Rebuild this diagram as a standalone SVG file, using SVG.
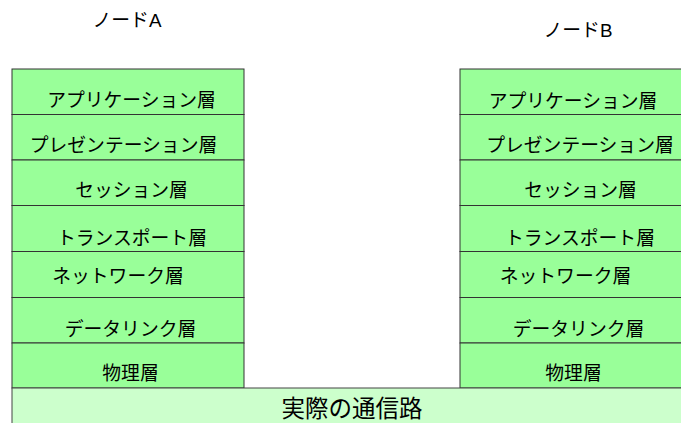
<svg xmlns="http://www.w3.org/2000/svg" width="681" height="423" viewBox="0 0 681 423">
<style>
.layer{fill:#99ff99;stroke:#333;stroke-width:1}
.t{font-family:"Liberation Sans","Noto Sans CJK JP",sans-serif;font-size:18.8px;fill:#000;text-anchor:middle}
.big{font-size:23.5px}
</style>
<rect width="681" height="423" fill="#fff"/>
<g id="nodeA">
<text class="t" x="127" y="27">ノードA</text>
<rect class="layer" x="12" y="69" width="232" height="45.5"/>
<rect class="layer" x="12" y="114.5" width="232" height="45.5"/>
<rect class="layer" x="12" y="160" width="232" height="45.5"/>
<rect class="layer" x="12" y="205.5" width="232" height="46"/>
<rect class="layer" x="12" y="251.5" width="232" height="46"/>
<rect class="layer" x="12" y="297.5" width="232" height="45.5"/>
<rect class="layer" x="12" y="343" width="232" height="45"/>
<text class="t" x="131.5" y="106.5">アプリケーション層</text>
<text class="t" x="123.5" y="152">プレゼンテーション層</text>
<text class="t" x="131.5" y="197">セッション層</text>
<text class="t" x="132" y="245">トランスポート層</text>
<text class="t" x="118" y="283">ネットワーク層</text>
<text class="t" x="130.5" y="336">データリンク層</text>
<text class="t" x="130.5" y="380">物理層</text>
</g>
<g id="nodeB">
<text class="t" x="578" y="37">ノードB</text>
<rect class="layer" x="460" y="69" width="230" height="45.5"/>
<rect class="layer" x="460" y="114.5" width="230" height="45.5"/>
<rect class="layer" x="460" y="160" width="230" height="45.5"/>
<rect class="layer" x="460" y="205.5" width="230" height="46"/>
<rect class="layer" x="460" y="251.5" width="230" height="46"/>
<rect class="layer" x="460" y="297.5" width="230" height="45.5"/>
<rect class="layer" x="460" y="343" width="230" height="45"/>
<text class="t" x="573" y="107.5">アプリケーション層</text>
<text class="t" x="580" y="152">プレゼンテーション層</text>
<text class="t" x="580.5" y="197">セッション層</text>
<text class="t" x="580" y="245">トランスポート層</text>
<text class="t" x="565.5" y="283">ネットワーク層</text>
<text class="t" x="578.5" y="336">データリンク層</text>
<text class="t" x="573.5" y="380">物理層</text>
</g>
<g id="channel">
<rect x="12" y="388" width="680" height="40" fill="#ccffcc" stroke="#444" stroke-width="1"/>
<text class="t big" x="352" y="417">実際の通信路</text>
</g>
<g id="connectors"></g>
</svg>
